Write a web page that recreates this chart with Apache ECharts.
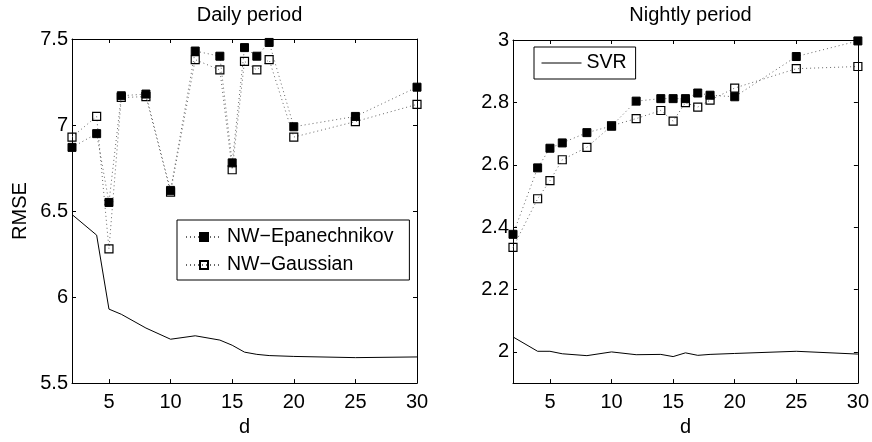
<!DOCTYPE html>
<html><head><meta charset="utf-8">
<script src="https://cdn.jsdelivr.net/npm/echarts@6/dist/echarts.min.js"></script>
<style>html,body{margin:0;padding:0;background:#fff}#c{width:872px;height:442px}</style>
</head><body><div id="c"></div>
<script>
// ---- data ----
const dValues = [2, 4, 5, 6, 8, 10, 12, 14, 15, 16, 17, 18, 20, 25, 30];

const dailyEpan  = [6.87, 6.95, 6.55, 7.17, 7.18, 6.62, 7.43, 7.40, 6.78, 7.45, 7.40, 7.48, 6.99, 7.05, 7.22];
const dailyGauss = [6.93, 7.05, 6.28, 7.16, 7.165, 6.61, 7.38, 7.32, 6.74, 7.37, 7.32, 7.38, 6.93, 7.02, 7.12];
const dailySVR   = [6.48, 6.36, 5.93, 5.90, 5.82, 5.755, 5.775, 5.75, 5.72, 5.68, 5.667, 5.66, 5.655, 5.648, 5.652];

const nightlyEpan  = [2.377, 2.590, 2.653, 2.670, 2.703, 2.724, 2.804, 2.812, 2.812, 2.812, 2.830, 2.823, 2.818, 2.947, 2.997];
const nightlyGauss = [2.335, 2.491, 2.549, 2.616, 2.656, 2.725, 2.748, 2.774, 2.740, 2.799, 2.785, 2.807, 2.846, 2.908, 2.915];
const nightlySVR   = [2.048, 2.002, 2.002, 1.994, 1.988, 2.000, 1.991, 1.992, 1.985, 1.997, 1.989, 1.992, 1.995, 2.002, 1.993];

const xTicks = [5, 10, 15, 20, 25, 30];
const dailyYTicks = [5.5, 6, 6.5, 7, 7.5];
const nightlyYTicks = [2, 2.2, 2.4, 2.6, 2.8, 3];

const titles = ['Daily period', 'Nightly period'];
const nameEpan = 'NW\u2212Epanechnikov';
const nameGauss = 'NW\u2212Gaussian';
const nameSVR = 'SVR';

// ---- chart ----
const FONT = '"Liberation Sans", Arial, Helvetica, sans-serif';
const pair = ys => dValues.map((d, i) => [d, ys[i]]);
const axisLine = {show: true, lineStyle: {color: '#000', width: 1}};

function xAx(grid, pos, show, gap) {
  return {
    gridIndex: grid, type: 'value', min: 2, max: 30, position: pos,
    axisLine: axisLine,
    axisTick: {show: true, inside: true, length: 4, customValues: xTicks, lineStyle: {color: '#000'}},
    axisLabel: {show: show, customValues: xTicks, margin: 9, fontSize: 20, color: '#000', fontFamily: FONT},
    splitLine: {show: false},
    name: show ? 'd' : '', nameLocation: 'middle', nameGap: gap,
    nameTextStyle: {fontSize: 20, color: '#000', fontFamily: FONT}
  };
}
function yAx(grid, pos, show, min, max, ticks, fmt, name) {
  return {
    gridIndex: grid, type: 'value', min: min, max: max, position: pos,
    axisLine: axisLine,
    axisTick: {show: true, inside: true, length: 4, customValues: ticks, lineStyle: {color: '#000'}},
    axisLabel: {show: show, customValues: ticks, margin: 4, fontSize: 20, color: '#000', fontFamily: FONT, formatter: fmt},
    splitLine: {show: false},
    name: name || '', nameLocation: 'middle', nameGap: 42, nameRotate: 90,
    nameTextStyle: {fontSize: 20, color: '#000', fontFamily: FONT}
  };
}
const fmtPlain = v => String(Math.round(v * 10) / 10);

const dotted = {color: '#666', width: 1, type: [1, 3]};
function epan(xi, yi, data) {
  return {name: nameEpan, type: 'line', xAxisIndex: xi, yAxisIndex: yi, data: pair(data),
    symbol: 'rect', symbolSize: 8, showAllSymbol: true, clip: false,
    lineStyle: dotted, itemStyle: {color: '#000', borderColor: '#000', borderWidth: 1}, z: 4};
}
function gauss(xi, yi, data) {
  return {name: nameGauss, type: 'line', xAxisIndex: xi, yAxisIndex: yi, data: pair(data),
    symbol: 'rect', symbolSize: 8, showAllSymbol: true, clip: false,
    lineStyle: dotted, itemStyle: {color: 'rgba(255,255,255,0)', borderColor: '#000', borderWidth: 1.2}, z: 3};
}
function svr(xi, yi, data) {
  return {name: nameSVR, type: 'line', xAxisIndex: xi, yAxisIndex: yi, data: pair(data),
    symbol: 'none', clip: false,
    lineStyle: {color: '#000', width: 1, type: 'solid'}, itemStyle: {color: '#000'}, z: 2};
}

const chart = echarts.init(document.getElementById('c'), null, {renderer: 'canvas'});
chart.setOption({
  animation: false,
  backgroundColor: '#fff',
  title: [
    {text: titles[0], left: 244.5, top: 0, textAlign: 'center',
      textStyle: {fontSize: 20, fontWeight: 'normal', color: '#000', fontFamily: FONT}},
    {text: titles[1], left: 685.5, top: 0, textAlign: 'center',
      textStyle: {fontSize: 20, fontWeight: 'normal', color: '#000', fontFamily: FONT}}
  ],
  grid: [
    {left: 72, top: 39, width: 345, height: 354},
    {left: 513, top: 40, width: 345, height: 346}
  ],
  xAxis: [
    xAx(0, 'bottom', true, 16),
    xAx(0, 'top', false, 0),
    xAx(1, 'bottom', true, 25),
    xAx(1, 'top', false, 0)
  ],
  yAxis: [
    yAx(0, 'left', true, 5.5, 7.5, dailyYTicks, fmtPlain, 'RMSE'),
    yAx(0, 'right', false, 5.5, 7.5, dailyYTicks, fmtPlain),
    yAx(1, 'left', true, 1.9, 3, nightlyYTicks, fmtPlain),
    yAx(1, 'right', false, 1.9, 3, nightlyYTicks, fmtPlain)
  ],
  legend: [
    {data: [nameEpan, nameGauss], orient: 'vertical', left: 177, top: 220,
      itemWidth: 36, itemHeight: 10, itemGap: 8, selectedMode: false,
      padding: [7, 16, 5, 8], borderColor: '#000', borderWidth: 1, backgroundColor: '#fff',
      textStyle: {fontSize: 19.5, lineHeight: 20, color: '#000', fontFamily: FONT}},
    {data: [{name: nameSVR, itemStyle: {color: 'rgba(0,0,0,0)', borderWidth: 0, opacity: 0}}],
      orient: 'vertical', left: 534, top: 47,
      itemWidth: 40, itemHeight: 10, selectedMode: false,
      lineStyle: {width: 1},
      padding: [6, 9, 6, 7], borderColor: '#000', borderWidth: 1, backgroundColor: '#fff',
      textStyle: {fontSize: 19.5, lineHeight: 20, color: '#000', fontFamily: FONT}}
  ],
  series: [
    svr(0, 0, dailySVR),
    gauss(0, 0, dailyGauss),
    epan(0, 0, dailyEpan),
    svr(2, 2, nightlySVR),
    gauss(2, 2, nightlyGauss),
    epan(2, 2, nightlyEpan)
  ]
});
</script>
</body></html>
